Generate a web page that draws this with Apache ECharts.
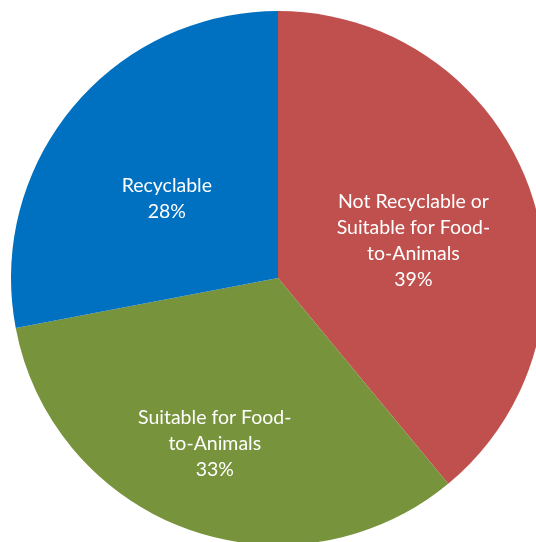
<!DOCTYPE html>
<html>
<head>
<meta charset="utf-8">
<script src="https://cdn.jsdelivr.net/npm/echarts@6/dist/echarts.min.js"></script>
<style>html,body{margin:0;padding:0;background:#fff;}#c{width:536px;height:542px;}</style>
</head>
<body>
<div id="c"></div>
<script>
var categories = ['Not Recyclable or\nSuitable for Food-\nto-Animals', 'Suitable for Food-\nto-Animals', 'Recyclable'];
var values = [39, 33, 28];
var colors = ['#C0504D', '#77933C', '#0070C0'];
var labelOffsets = [[7, 9], [-17, 37], [-6, 8]];

var chart = echarts.init(document.getElementById('c'), null, {renderer: 'canvas'});
var data = categories.map(function (c, i) {
  return {name: c, value: values[i], itemStyle: {color: colors[i]}, label: {offset: labelOffsets[i]}};
});
chart.setOption({
  animation: false,
  series: [{
    type: 'pie',
    center: [278, 278],
    radius: [0, 267],
    startAngle: 90,
    clockwise: true,
    data: data,
    label: {
      show: true,
      position: 'inside',
      color: '#fff',
      fontFamily: 'Lato',
      fontSize: 19.5,
      lineHeight: 26,
      formatter: function (p) { return p.name + '\n' + p.value + '%'; }
    },
    labelLine: {show: false},
    emphasis: {disabled: true}
  }]
});
</script>
</body>
</html>
